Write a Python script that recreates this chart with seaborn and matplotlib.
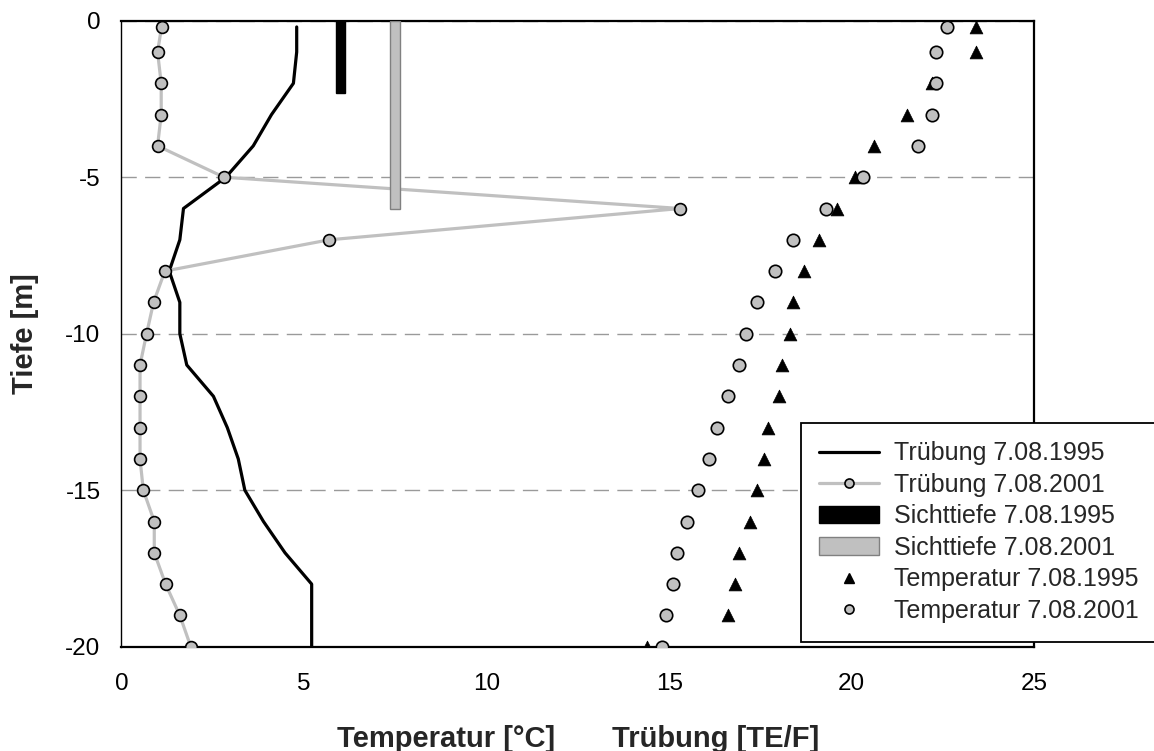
import matplotlib
matplotlib.use("Agg")
import matplotlib.pyplot as plt
import seaborn as sns
from matplotlib.lines import Line2D
from matplotlib.patches import Patch

# Depth levels of the profile (m)
depth = [-0.2, -1, -2, -3, -4, -5, -6, -7, -8, -9, -10,
         -11, -12, -13, -14, -15, -16, -17, -18, -19, -20]

# Turbidity profiles (TE/F)
trueb_1995 = [4.80, 4.80, 4.71, 4.11, 3.61, 2.86, 1.70, 1.60, 1.31, 1.60, 1.60,
              1.79, 2.52, 2.90, 3.20, 3.38, 3.89, 4.48, 5.21, 5.21, 5.21]
trueb_2001 = [1.10, 0.99, 1.09, 1.09, 0.99, 2.81, 15.30, 5.69, 1.19, 0.88, 0.69,
              0.51, 0.51, 0.51, 0.51, 0.60, 0.90, 0.90, 1.21, 1.60, 1.90]

# Water temperature profiles (°C)
temp_1995 = [23.4, 23.4, 22.2, 21.5, 20.6, 20.1, 19.6, 19.1, 18.7, 18.4, 18.3,
             18.1, 18.0, 17.7, 17.6, 17.4, 17.2, 16.9, 16.8, 16.6, 14.4]
temp_2001 = [22.6, 22.3, 22.3, 22.2, 21.8, 20.3, 19.3, 18.4, 17.9, 17.4, 17.1,
             16.9, 16.6, 16.3, 16.1, 15.8, 15.5, 15.2, 15.1, 14.9, 14.8]

# Secchi depth, drawn as bars hanging from the surface
secchi_pos = [6.0, 7.5]
secchi_depth = [-2.3, -6.0]

labels = ["Trübung 7.08.1995", "Trübung 7.08.2001",
          "Sichttiefe 7.08.1995", "Sichttiefe 7.08.2001",
          "Temperatur 7.08.1995", "Temperatur 7.08.2001"]

x_ticks = [0, 5, 10, 15, 20, 25]
y_ticks = [0, -5, -10, -15, -20]

sns.set_style("white")
plt.rcParams["font.family"] = ["Liberation Sans", "DejaVu Sans"]
plt.rcParams["axes.unicode_minus"] = False

GREY = "#c0c0c0"

fig = plt.figure(figsize=(11.54, 7.51), dpi=100)
ax = fig.add_axes([121.4 / 1154, 1 - 646.7 / 751,
                   (1034.4 - 121.4) / 1154, (646.7 - 20.7) / 751])

# turbidity profiles
sns.lineplot(x=trueb_1995, y=depth, sort=False, estimator=None, color="black",
             linewidth=2.3, ax=ax, legend=False, zorder=3)
sns.lineplot(x=trueb_2001, y=depth, sort=False, estimator=None, color=GREY,
             linewidth=2.3, marker="o", markersize=8.5, markerfacecolor=GREY,
             markeredgecolor="black", markeredgewidth=1.2, ax=ax,
             legend=False, zorder=4)

# secchi depth bars
ax.bar(secchi_pos, secchi_depth, width=0.27, bottom=0,
       color=["black", GREY], edgecolor=["black", "#808080"],
       linewidth=1, zorder=5)

# temperature profiles
sns.scatterplot(x=temp_1995, y=depth, marker="^", s=85, color="black",
                edgecolor="black", linewidth=0.5, ax=ax, legend=False, zorder=6)
sns.scatterplot(x=temp_2001, y=depth, marker="o", s=80, color=GREY,
                edgecolor="black", linewidth=1.2, ax=ax, legend=False, zorder=7)

ax.set_xlim(0, 25)
ax.set_ylim(-20, 0)
ax.set_xticks(x_ticks)
ax.set_xticklabels([str(t) for t in x_ticks])
ax.set_yticks(y_ticks)
ax.set_yticklabels([str(t) for t in y_ticks])
ax.tick_params(axis="both", direction="out", length=7, width=1,
               color="black", labelsize=17.5, labelcolor="black")
ax.tick_params(axis="x", pad=12)
ax.tick_params(axis="y", pad=8)

ax.set_axisbelow(True)
ax.yaxis.grid(True, color="#9a9a9a", linewidth=1, linestyle=(0, (11, 6)))
ax.xaxis.grid(False)

for side in ["top", "right", "bottom"]:
    ax.spines[side].set_color("black")
    ax.spines[side].set_linewidth(1.6)
ax.spines["left"].set_color("black")
ax.spines["left"].set_linewidth(1.0)

ax.set_xlabel("Temperatur [°C]" + " " * 7 + "Trübung [TE/F]",
              fontsize=21, fontweight="bold")
ax.xaxis.label.set_va("baseline")
ax.xaxis.set_label_coords(0.5, -(746.7 - 646.7) / 626)
ax.set_ylabel("Tiefe [m]", fontsize=21, fontweight="bold")
ax.yaxis.set_label_coords((39 - 121.4) / 913, 0.5)

handles = [
    Line2D([], [], color="black", linewidth=2.3),
    Line2D([], [], color=GREY, linewidth=2.3, marker="o", markersize=6.5,
           markerfacecolor=GREY, markeredgecolor="black", markeredgewidth=1.2),
    Patch(facecolor="black", edgecolor="black"),
    Patch(facecolor=GREY, edgecolor="#808080"),
    Line2D([], [], linestyle="none", marker="^", markersize=6.5, color="black"),
    Line2D([], [], linestyle="none", marker="o", markersize=6.5,
           markerfacecolor=GREY, markeredgecolor="black", markeredgewidth=1.2),
]
leg = ax.legend(handles, labels, loc="upper left",
                bbox_to_anchor=(800.7 / 1154, 1 - 422.7 / 751),
                bbox_transform=fig.transFigure, borderaxespad=0,
                frameon=True, fancybox=False, framealpha=1, edgecolor="black",
                fontsize=18, handlelength=2.4, handleheight=0.7,
                handletextpad=0.6, borderpad=0.75, labelspacing=0.3)
leg.get_frame().set_linewidth(1.3)
leg.set_zorder(10)

fig.savefig("out.png", dpi=100)
